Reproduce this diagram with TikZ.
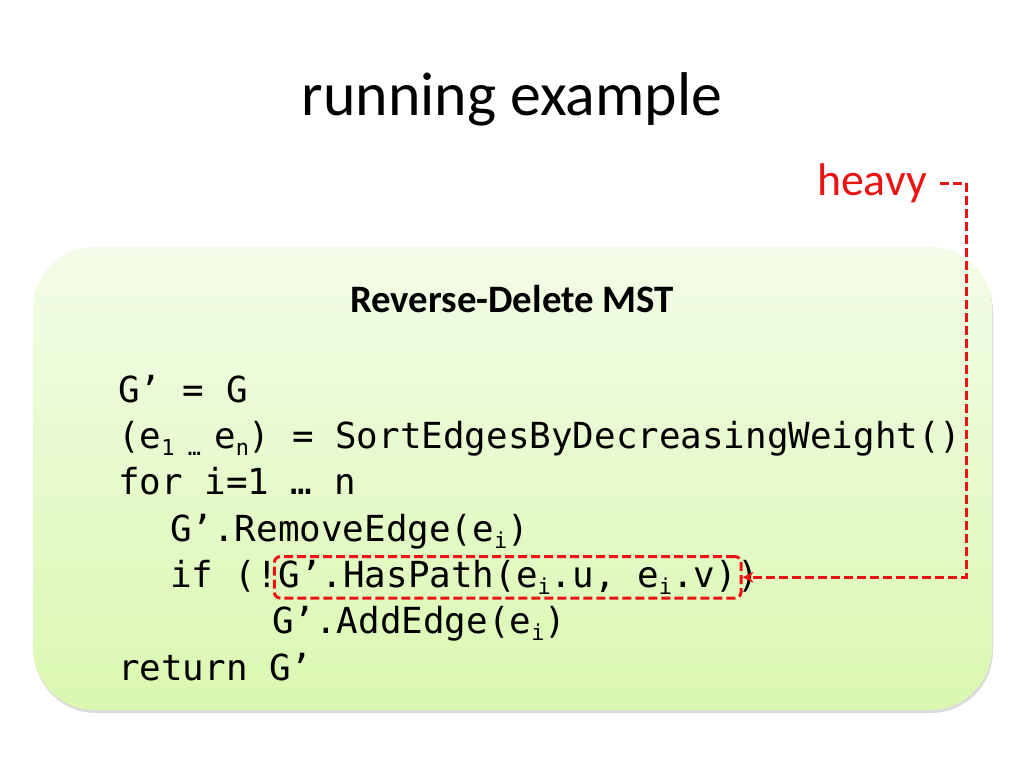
\documentclass[tikz,border=0pt]{standalone}
\usepackage{fontspec}
\setmainfont{Carlito}
\setmonofont{DejaVu Sans Mono}
\usetikzlibrary{arrows.meta,fit,shadows}
\definecolor{panelTop}{RGB}{243,252,232}
\definecolor{panelBot}{RGB}{218,248,176}
\definecolor{heavyRed}{RGB}{235,20,20}
\def\sub#1{\raisebox{-0.22em}{\fontsize{22}{22}\selectfont#1}}

\begin{document}
\begin{tikzpicture}[x=1bp, y=-1bp,
		code/.style={anchor=base west, inner sep=0pt, font=\ttfamily\fontsize{36}{36}\selectfont},
		hpbox/.style={draw=heavyRed, line width=3bp, dash pattern=on 9bp off 4bp, rounded corners=6bp, inner xsep=4bp, inner ysep=3bp},
		heavyline/.style={draw=heavyRed, line width=3bp, dash pattern=on 9bp off 4bp, -{Stealth[length=11bp,width=11bp]}}]
		%%%%% START %%%%%
		\useasboundingbox (0,0) rectangle (1024,768);
		
		\node[anchor=base, inner sep=0pt, font=\fontsize{62}{62}\selectfont] (title) at (512,115) {running example};
		
		\path[top color=panelTop, bottom color=panelBot, rounded corners=62bp,
			drop shadow={shadow xshift=1bp, shadow yshift=-3bp, opacity=0.35, fill=black!40}]
			(33,247) rectangle (992,710);
		
		\node[anchor=base, inner sep=0pt, font=\bfseries\fontsize{39}{39}\selectfont] (head) at (512,312) {Reverse-Delete MST};
		
		\node[code] (l1) at (118,402) {G’ = G};
		\node[code] (l2) at (118,448) {(e\sub{1 … }e\sub{n}) = SortEdgesByDecreasingWeight()};
		\node[code] (l3) at (118,494) {for i=1 … n};
		\node[code] (l4) at (170,541) {G’.RemoveEdge(e\sub{i})};
		\node[code] (l5) at (170,587) {if (!};
		\node[code] (hp) at (l5.base east) {G’.HasPath(e\sub{i}.u, e\sub{i}.v)};
		\node[code] (l5end) at (hp.base east) {)};
		\node[code] (l6) at (272,633) {G’.AddEdge(e\sub{i})};
		\node[code] (l7) at (118,680) {return G’};
		
		\node[hpbox, fit=(hp)] (hpframe) {};
		
		\node[anchor=east, inner sep=0pt, text=heavyRed, font=\fontsize{46}{46}\selectfont] (heavy) at (927,183) {heavy};
		\coordinate (bend) at (966,183);
		\draw[heavyline] ([xshift=13bp]heavy.east) -- (bend) |- (hpframe.east);
		
		%%%%% END %%%%%
	\end{tikzpicture}
\end{document}
